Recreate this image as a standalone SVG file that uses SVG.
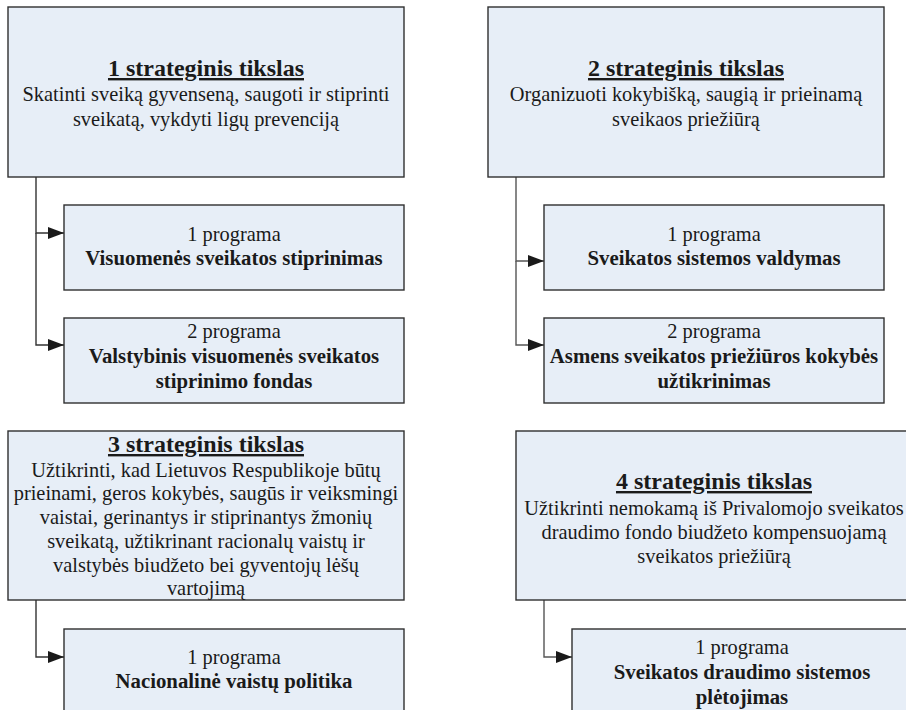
<svg xmlns="http://www.w3.org/2000/svg" width="906" height="710" viewBox="0 0 906 710">
  <style>
    .box { fill: #e7eef7; stroke: #2f2f2f; stroke-width: 1.4; }
    text { font-family: "Liberation Serif", "Times New Roman", serif; fill: #1a1a1a; text-anchor: middle; }
    .title { font-size: 24px; font-weight: bold; text-decoration: underline; }
    .body { font-size: 20.4px; }
    .bold { font-size: 20.8px; font-weight: bold; }
    .link { fill: none; stroke: #333; stroke-width: 1.4; }
    .link2 { fill: none; stroke: #555; stroke-width: 1.4; }
  </style>
  <defs>
    <marker id="arrow" markerUnits="userSpaceOnUse" markerWidth="16" markerHeight="12" refX="16" refY="6" orient="auto">
      <path d="M0,0 L16,6 L0,12 Z" fill="#1a1a1a"/>
    </marker>
  </defs>

  <rect width="906" height="710" fill="#ffffff"/>

  <!-- connectors -->
  <g id="connectors">
    <path class="link" d="M36,177 V233 H64" marker-end="url(#arrow)"/>
    <path class="link" d="M36,233 V345 H64" marker-end="url(#arrow)"/>
    <path class="link2" d="M516,177 V261 H544" marker-end="url(#arrow)"/>
    <path class="link2" d="M516,261 V345 H544" marker-end="url(#arrow)"/>
    <path class="link" d="M36,600 V657 H64" marker-end="url(#arrow)"/>
    <path class="link2" d="M544,600 V657 H572" marker-end="url(#arrow)"/>
  </g>

  <!-- goal 1 -->
  <g id="goal1">
    <rect class="box" x="8" y="7" width="396" height="170"/>
    <text class="title" x="206" y="76">1 strateginis tikslas</text>
    <text class="body" x="206" y="101">Skatinti sveiką gyvenseną, saugoti ir stiprinti</text>
    <text class="body" x="206" y="126">sveikatą, vykdyti ligų prevenciją</text>
  </g>
  <g id="goal1-prog1">
    <rect class="box" x="64" y="205" width="340" height="85"/>
    <text class="body" x="234" y="241">1 programa</text>
    <text class="bold" x="234" y="265">Visuomenės sveikatos stiprinimas</text>
  </g>
  <g id="goal1-prog2">
    <rect class="box" x="64" y="318" width="340" height="85"/>
    <text class="body" x="234" y="338">2 programa</text>
    <text class="bold" x="234" y="363">Valstybinis visuomenės sveikatos</text>
    <text class="bold" x="234" y="388">stiprinimo fondas</text>
  </g>

  <!-- goal 2 -->
  <g id="goal2">
    <rect class="box" x="488" y="7" width="396" height="170"/>
    <text class="title" x="686" y="76">2 strateginis tikslas</text>
    <text class="body" x="686" y="101">Organizuoti kokybišką, saugią ir prieinamą</text>
    <text class="body" x="686" y="126">sveikaos priežiūrą</text>
  </g>
  <g id="goal2-prog1">
    <rect class="box" x="544" y="205" width="340" height="85"/>
    <text class="body" x="714" y="241">1 programa</text>
    <text class="bold" x="714" y="265">Sveikatos sistemos valdymas</text>
  </g>
  <g id="goal2-prog2">
    <rect class="box" x="544" y="318" width="340" height="85"/>
    <text class="body" x="714" y="338">2 programa</text>
    <text class="bold" x="714" y="363">Asmens sveikatos priežiūros kokybės</text>
    <text class="bold" x="714" y="388">užtikrinimas</text>
  </g>

  <!-- goal 3 -->
  <g id="goal3">
    <rect class="box" x="8" y="431" width="396" height="169"/>
    <text class="title" x="206" y="452">3 strateginis tikslas</text>
    <text class="body" x="206" y="477">Užtikrinti, kad Lietuvos Respublikoje būtų</text>
    <text class="body" x="206" y="500">prieinami, geros kokybės, saugūs ir veiksmingi</text>
    <text class="body" x="206" y="524">vaistai, gerinantys ir stiprinantys žmonių</text>
    <text class="body" x="206" y="548">sveikatą, užtikrinant racionalų vaistų ir</text>
    <text class="body" x="206" y="572">valstybės biudžeto bei gyventojų lėšų</text>
    <text class="body" x="206" y="595">vartojimą</text>
  </g>
  <g id="goal3-prog1">
    <rect class="box" x="64" y="629" width="340" height="100"/>
    <text class="body" x="234" y="664">1 programa</text>
    <text class="bold" x="234" y="688">Nacionalinė vaistų politika</text>
  </g>

  <!-- goal 4 -->
  <g id="goal4">
    <rect class="box" x="516" y="431" width="396" height="169"/>
    <text class="title" x="714" y="489">4 strateginis tikslas</text>
    <text class="body" x="714" y="515">Užtikrinti nemokamą iš Privalomojo sveikatos</text>
    <text class="body" x="714" y="539">draudimo fondo biudžeto kompensuojamą</text>
    <text class="body" x="714" y="563">sveikatos priežiūrą</text>
  </g>
  <g id="goal4-prog1">
    <rect class="box" x="572" y="629" width="340" height="100"/>
    <text class="body" x="742" y="654">1 programa</text>
    <text class="bold" x="742" y="679">Sveikatos draudimo sistemos</text>
    <text class="bold" x="742" y="704">plėtojimas</text>
  </g>
</svg>
